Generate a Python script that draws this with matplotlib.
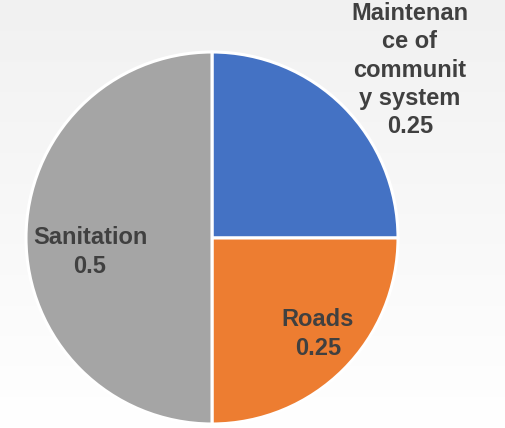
import matplotlib
matplotlib.use("Agg")
import matplotlib.pyplot as plt
import numpy as np

categories = ["Maintenance of community system", "Roads", "Sanitation"]
label_texts = ["Maintenan\nce of\ncommunit\ny system", "Roads", "Sanitation"]
values = [0.25, 0.25, 0.5]
colors = ["#4472C4", "#ED7D31", "#A5A5A5"]

W, H = 505, 428
fig = plt.figure(figsize=(W / 100, H / 100), dpi=100)

# background gradient
bg = fig.add_axes([0, 0, 1, 1], zorder=0)
grad = np.linspace(0, 1, 256).reshape(-1, 1)
cm = matplotlib.colors.LinearSegmentedColormap.from_list("bg", ["#f1f1f1", "#ffffff"])
bg.imshow(grad, aspect="auto", cmap=cm, extent=[0, 1, 0, 1], origin="upper")
bg.axis("off")

ax = fig.add_axes([0, 0, 1, 1], zorder=1)
ax.patch.set_visible(False)

cx, cy, r = 212, 190, 186
wedges, _ = ax.pie(values, colors=colors, startangle=90, counterclock=False,
                   center=(cx, cy), radius=r, frame=True,
                   wedgeprops=dict(edgecolor="white", linewidth=2.2))
ax.set_xlim(0, W)
ax.set_ylim(0, H)
ax.axis("off")

label_pos = [(410, 358), (318, 94), (90, 176)]
for txt, v, (x, y) in zip(label_texts, values, label_pos):
    ax.text(x, y, f"{txt}\n{v:g}", ha="center", va="center", fontsize=17,
            fontweight="bold", color="#404040", family="Liberation Sans",
            linespacing=1.3)

fig.savefig("out.png", dpi=100)
